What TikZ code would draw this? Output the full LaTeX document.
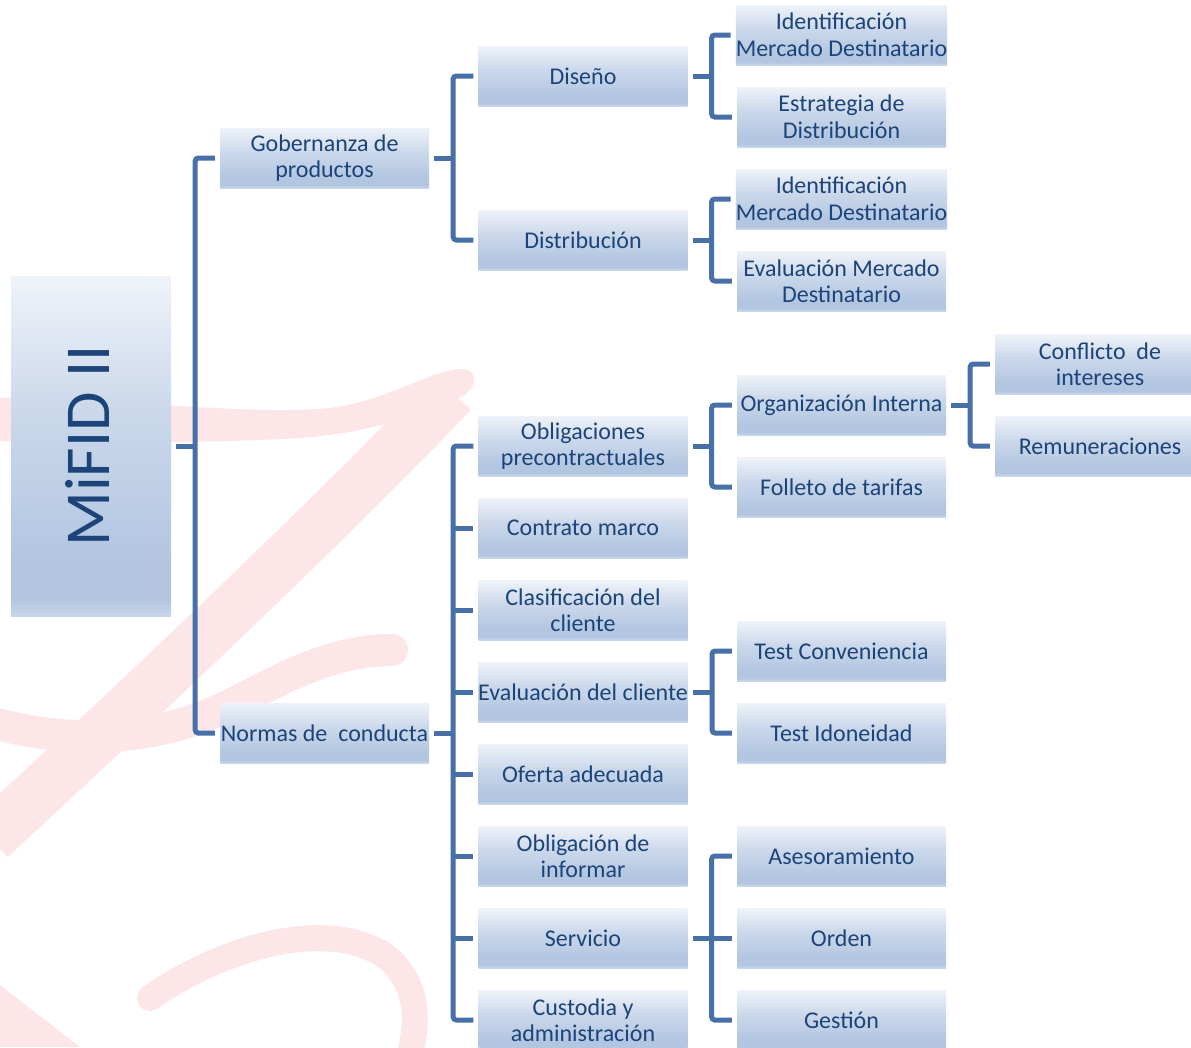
\documentclass[tikz,border=0pt]{standalone}
\usepackage{fontspec}
\setmainfont{Carlito}
\usetikzlibrary{calc}

\definecolor{txt}{HTML}{1D4478}
\definecolor{conn}{HTML}{4770A8}
\definecolor{wm}{HTML}{FCE6E8}
\definecolor{bxTop}{HTML}{EFF3F9}
\definecolor{bxMid}{HTML}{CBD8EB}
\definecolor{bxLow}{HTML}{B2C6E1}
\definecolor{bxBot}{HTML}{C8D6EA}

% soft blue box gradient: light on top, darkest just above a lighter bottom rim
\pgfdeclareverticalshading{boxshade}{100bp}{%
  color(0bp)=(bxBot); color(25bp)=(bxBot); color(27.5bp)=(bxLow);
  color(33bp)=(bxLow); color(55bp)=(bxMid); color(75bp)=(bxTop);
  color(100bp)=(bxTop)}

\tikzset{
  box/.style={rectangle, shading=boxshade, minimum width=209pt,
    minimum height=60pt, inner sep=0pt, align=center, text=txt,
    font=\fontsize{24}{26.5}\selectfont},
  conn/.style={draw=conn, line width=5pt, rounded corners=3pt},
  wmark/.style={draw=wm, line cap=round}
}

% bracket from a parent to its first and last child, bus 24pt right of the parent
\newcommand\treebr[3]{%
  \coordinate (#1bus) at ([xshift=24pt]#1.east);
  \draw[conn] ([xshift=5pt]#1.east) -- (#1bus);
  \draw[conn] ([xshift=-5pt]#2.west) -- (#1bus |- #2.west)
     -- (#1bus |- #3.west) -- ([xshift=-5pt]#3.west);
}
% stub from a parent's bus to a middle child
\newcommand\treemid[2]{%
  \draw[conn] (#1bus |- #2.west) -- ([xshift=-5pt]#2.west);
}

\begin{document}
\begin{tikzpicture}[x=1pt, y=-1pt]
\fill[white] (0,0) rectangle (1191,1047);
\useasboundingbox (0,0) rectangle (1191,1047);

% pale calligraphic watermark
\fill[wm] (0,398) .. controls (120,398) and (250,416) .. (330,408)
  .. controls (390,400) and (430,370) .. (462,369)
  .. controls (480,369) and (478,392) .. (455,400)
  .. controls (420,412) and (380,432) .. (300,438)
  .. controls (200,444) and (80,442) .. (0,441) -- cycle;
\draw[wm, line width=52pt] (452,392) .. controls (330,520) and (150,690) .. (-10,838);
\draw[wmark, line width=32pt] (-10,722) .. controls (60,742) and (150,745) .. (230,705)
  .. controls (280,680) and (330,650) .. (392,650);
\draw[wmark, line width=26pt] (150,998) .. controls (220,948) and (330,915) .. (388,958)
  .. controls (418,985) and (420,1020) .. (408,1060);
\fill[wm] (0,985) -- (80,1047) -- (0,1047) -- cycle;

% root
\shade[shading=boxshade] (11,276) rectangle (171,616);
\node[inner sep=0pt] (mifid) at (91,446) [minimum width=160pt, minimum height=340pt] {};
\node[rotate=90, anchor=base, text=txt, font=\fontsize{64}{70}\selectfont, inner sep=0pt]
  (mifidlbl) at (109,446) {MiFID II};

% level 1
\node[box] (gob)  at (324.5,158) {Gobernanza de\\productos};
\node[box] (norm) at (324.5,733) {Normas de\ \ conducta};

% level 2
\node[box] (dis)  at (583,76)   {Diseño};
\node[box] (dist) at (583,240)  {Distribución};
\node[box] (oblp) at (583,446)  {Obligaciones\\precontractuales};
\node[box] (cont) at (583,528)  {Contrato marco};
\node[box] (clas) at (583,610)  {Clasificación del\\cliente};
\node[box] (evc)  at (583,692)  {Evaluación del cliente};
\node[box] (ofe)  at (583,774)  {Oferta adecuada};
\node[box] (obli) at (583,856)  {Obligación de\\informar};
\node[box] (serv) at (583,938)  {Servicio};
\node[box] (cust) at (583,1020) {Custodia y\\administración};

% level 3
\node[box] (id1)   at (841.5,35)   {Identificación\\Mercado Destinatario};
\node[box] (est)   at (841.5,117)  {Estrategia de\\Distribución};
\node[box] (id2)   at (841.5,199)  {Identificación\\Mercado Destinatario};
\node[box] (evm)   at (841.5,281)  {Evaluación Mercado\\Destinatario};
\node[box] (org)   at (841.5,405)  {Organización Interna};
\node[box] (fol)   at (841.5,487)  {Folleto de tarifas};
\node[box] (tconv) at (841.5,651)  {Test Conveniencia};
\node[box] (tido)  at (841.5,733)  {Test Idoneidad};
\node[box] (ase)   at (841.5,856)  {Asesoramiento};
\node[box] (ord)   at (841.5,938)  {Orden};
\node[box] (ges)   at (841.5,1020) {Gestión};

% level 4
\node[box, minimum width=210pt] (conf) at (1100,364) {Conflicto\ \ de\\intereses};
\node[box, minimum width=210pt] (rem)  at (1100,446) {Remuneraciones};

% connectors
\treebr{mifid}{gob}{norm}
\treebr{gob}{dis}{dist}
\treebr{dis}{id1}{est}
\treebr{dist}{id2}{evm}
\treebr{norm}{oblp}{cust}
\treemid{norm}{cont}
\treemid{norm}{clas}
\treemid{norm}{evc}
\treemid{norm}{ofe}
\treemid{norm}{obli}
\treemid{norm}{serv}
\treebr{oblp}{org}{fol}
\treebr{org}{conf}{rem}
\treebr{evc}{tconv}{tido}
\treebr{serv}{ase}{ges}
\treemid{serv}{ord}
\end{tikzpicture}
\end{document}
